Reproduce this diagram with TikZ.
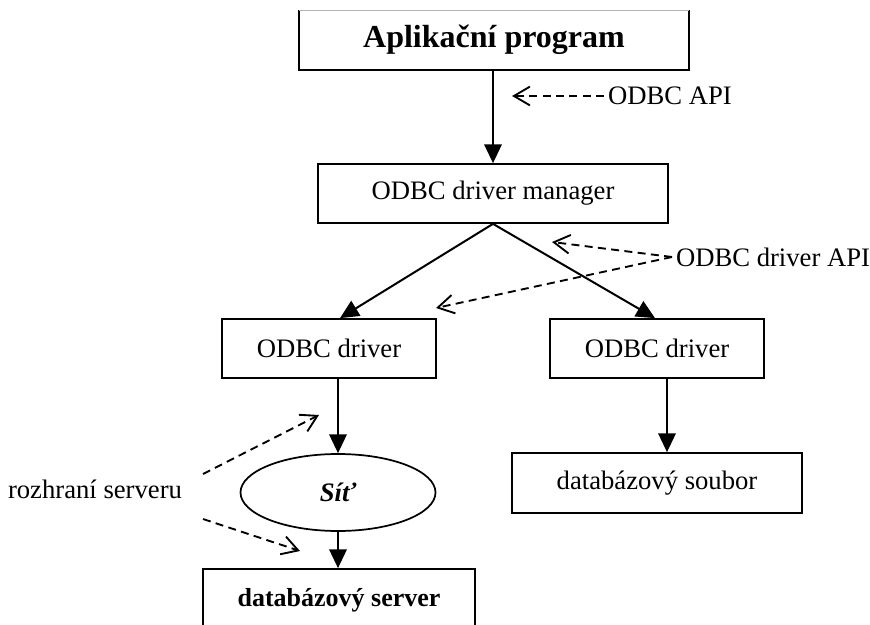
\documentclass[tikz,border=0pt]{standalone}
\usepackage{fontspec}
\setmainfont{Liberation Serif}
\usetikzlibrary{arrows.meta,shapes.geometric}
\begin{document}
\begin{tikzpicture}[x=0.75pt,y=-0.75pt,
  box/.style={draw,line width=1.3pt,inner sep=0pt,font=\fontsize{20}{24}\selectfont},
  flow/.style={line width=1.5pt,-{Triangle[length=14pt,width=13pt]}},
  hint/.style={line width=1.4pt,dash pattern=on 6pt off 4pt,-{Straight Barb[length=12pt,width=14pt]}},
  lbl/.style={inner sep=0pt,outer sep=3pt,font=\fontsize{20}{24}\selectfont}]
\useasboundingbox (0,0) rectangle (870,624);

% nodes
\node[box,draw=none,minimum width=291pt,minimum height=43.5pt,font=\fontsize{24}{28}\selectfont\bfseries] (app) at (494,40) {Aplikační program};
\draw[line width=1.5pt] (app.north west) -- (app.south west) -- (app.south east) -- (app.north east);
\draw[line width=0.5pt,gray!60] (app.north west) -- (app.north east);

\node[box,minimum width=262.5pt,minimum height=44.25pt] (mgr) at (493,193.5) {ODBC driver manager};
\node[box,minimum width=160.5pt,minimum height=44.25pt] (drvL) at (329,348.5) {ODBC driver};
\node[box,minimum width=160.5pt,minimum height=44.25pt] (drvR) at (657,348.5) {ODBC driver};
\node[box,ellipse,minimum width=146.25pt,minimum height=57.75pt,font=\fontsize{20}{24}\selectfont\bfseries\itshape] (net) at (338,492.5) {Síť};
\node[box,minimum width=217.5pt,minimum height=45pt] (file) at (657,483) {databázový soubor};
\node[box,minimum width=204pt,minimum height=46.5pt,font=\fontsize{19.5}{24}\selectfont\bfseries] (srv) at (339,600) {databázový server};

% labels
\node[lbl,anchor=west] (api) at (604,96) {ODBC API};
\node[lbl,anchor=west] (dapi) at (672,257) {ODBC driver API};
\node[lbl] (rs) at (95,489) {rozhraní serveru};

% free ends of hint arrows
\coordinate (apiTip) at (512,96);
\coordinate (dTipA) at (552,242);
\coordinate (dTipB) at (436,308);
\coordinate (rsA) at (203,474);
\coordinate (rsB) at (203,519);
\coordinate (rsTipA) at (319,415);
\coordinate (rsTipB) at (300,551);

% solid flow
\draw[flow] (app.south -| mgr.north) -- (mgr.north);
\draw[flow] (mgr.south) -- ([xshift=8.25pt]drvL.north);
\draw[flow] (mgr.south) -- ([xshift=-1.5pt]drvR.north);
\draw[flow] (drvL.south -| net.north) -- (net.north);
\draw[flow] (net.south) -- (srv.north -| net.south);
\draw[flow] ([xshift=7.5pt]drvR.south) -- ([xshift=7.5pt]file.north);

% dashed hints
\draw[hint] (api.west) -- (apiTip);
\draw[hint] (dapi.west) -- (dTipA);
\draw[hint] (dapi.west) -- (dTipB);
\draw[hint] (rsA) -- (rsTipA);
\draw[hint] (rsB) -- (rsTipB);
\end{tikzpicture}
\end{document}
